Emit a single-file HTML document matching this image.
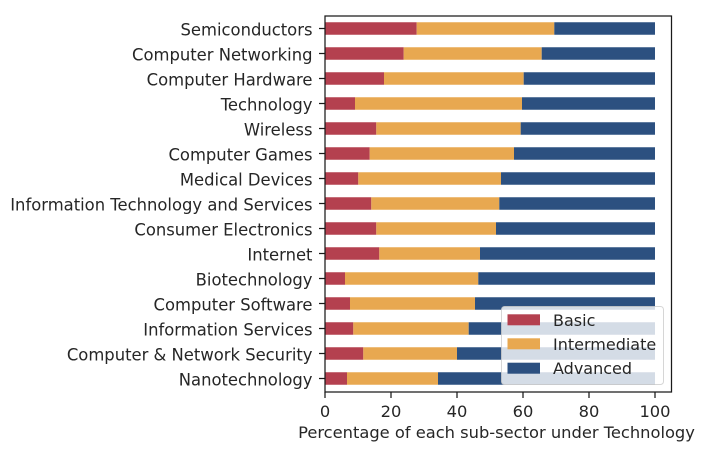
<!DOCTYPE html>
<html>
<head>
<meta charset="utf-8">
<style>
html,body{margin:0;padding:0;background:#fff;}
svg{display:block;}
text{font-family:"DejaVu Sans","Liberation Sans",sans-serif;fill:#262626;}
</style>
</head>
<body>
<svg width="706" height="452" viewBox="0 0 706 452" xmlns="http://www.w3.org/2000/svg">
<rect width="706" height="452" fill="#fff"/>
<g id="bars">
<rect x="325" y="22.25" width="91.7" height="12.5" fill="#b4404f"/>
<rect x="416.7" y="22.25" width="137.6" height="12.5" fill="#e8a850"/>
<rect x="554.3" y="22.25" width="100.7" height="12.5" fill="#2c5080"/>
<rect x="325" y="47.25" width="78.7" height="12.5" fill="#b4404f"/>
<rect x="403.7" y="47.25" width="138" height="12.5" fill="#e8a850"/>
<rect x="541.7" y="47.25" width="113.3" height="12.5" fill="#2c5080"/>
<rect x="325" y="72.25" width="59" height="12.5" fill="#b4404f"/>
<rect x="384" y="72.25" width="139.7" height="12.5" fill="#e8a850"/>
<rect x="523.7" y="72.25" width="131.3" height="12.5" fill="#2c5080"/>
<rect x="325" y="97.25" width="30" height="12.5" fill="#b4404f"/>
<rect x="355" y="97.25" width="167" height="12.5" fill="#e8a850"/>
<rect x="522" y="97.25" width="133" height="12.5" fill="#2c5080"/>
<rect x="325" y="122.25" width="51.3" height="12.5" fill="#b4404f"/>
<rect x="376.3" y="122.25" width="144.4" height="12.5" fill="#e8a850"/>
<rect x="520.7" y="122.25" width="134.3" height="12.5" fill="#2c5080"/>
<rect x="325" y="147.25" width="44.7" height="12.5" fill="#b4404f"/>
<rect x="369.7" y="147.25" width="144.3" height="12.5" fill="#e8a850"/>
<rect x="514" y="147.25" width="141" height="12.5" fill="#2c5080"/>
<rect x="325" y="172.25" width="33.3" height="12.5" fill="#b4404f"/>
<rect x="358.3" y="172.25" width="142.7" height="12.5" fill="#e8a850"/>
<rect x="501" y="172.25" width="154" height="12.5" fill="#2c5080"/>
<rect x="325" y="197.25" width="46.3" height="12.5" fill="#b4404f"/>
<rect x="371.3" y="197.25" width="128" height="12.5" fill="#e8a850"/>
<rect x="499.3" y="197.25" width="155.7" height="12.5" fill="#2c5080"/>
<rect x="325" y="222.25" width="51.3" height="12.5" fill="#b4404f"/>
<rect x="376.3" y="222.25" width="119.7" height="12.5" fill="#e8a850"/>
<rect x="496" y="222.25" width="159" height="12.5" fill="#2c5080"/>
<rect x="325" y="247.25" width="54.3" height="12.5" fill="#b4404f"/>
<rect x="379.3" y="247.25" width="100.7" height="12.5" fill="#e8a850"/>
<rect x="480" y="247.25" width="175" height="12.5" fill="#2c5080"/>
<rect x="325" y="272.25" width="20" height="12.5" fill="#b4404f"/>
<rect x="345" y="272.25" width="133.3" height="12.5" fill="#e8a850"/>
<rect x="478.3" y="272.25" width="176.7" height="12.5" fill="#2c5080"/>
<rect x="325" y="297.25" width="25" height="12.5" fill="#b4404f"/>
<rect x="350" y="297.25" width="125" height="12.5" fill="#e8a850"/>
<rect x="475" y="297.25" width="180" height="12.5" fill="#2c5080"/>
<rect x="325" y="322.25" width="28.3" height="12.5" fill="#b4404f"/>
<rect x="353.3" y="322.25" width="115.4" height="12.5" fill="#e8a850"/>
<rect x="468.7" y="322.25" width="186.3" height="12.5" fill="#2c5080"/>
<rect x="325" y="347.25" width="38.3" height="12.5" fill="#b4404f"/>
<rect x="363.3" y="347.25" width="93.7" height="12.5" fill="#e8a850"/>
<rect x="457" y="347.25" width="198" height="12.5" fill="#2c5080"/>
<rect x="325" y="372.25" width="22" height="12.5" fill="#b4404f"/>
<rect x="347" y="372.25" width="91" height="12.5" fill="#e8a850"/>
<rect x="438" y="372.25" width="217" height="12.5" fill="#2c5080"/>
</g>

<rect x="325" y="16" width="346.5" height="376" fill="none" stroke="#1a1a1a" stroke-width="1.25"/>

<g stroke="#1a1a1a" stroke-width="1.25">
<line x1="319" y1="28.5" x2="325" y2="28.5"/>
<line x1="319" y1="53.5" x2="325" y2="53.5"/>
<line x1="319" y1="78.5" x2="325" y2="78.5"/>
<line x1="319" y1="103.5" x2="325" y2="103.5"/>
<line x1="319" y1="128.5" x2="325" y2="128.5"/>
<line x1="319" y1="153.5" x2="325" y2="153.5"/>
<line x1="319" y1="178.5" x2="325" y2="178.5"/>
<line x1="319" y1="203.5" x2="325" y2="203.5"/>
<line x1="319" y1="228.5" x2="325" y2="228.5"/>
<line x1="319" y1="253.5" x2="325" y2="253.5"/>
<line x1="319" y1="278.5" x2="325" y2="278.5"/>
<line x1="319" y1="303.5" x2="325" y2="303.5"/>
<line x1="319" y1="328.5" x2="325" y2="328.5"/>
<line x1="319" y1="353.5" x2="325" y2="353.5"/>
<line x1="319" y1="378.5" x2="325" y2="378.5"/>
<line x1="325" y1="392" x2="325" y2="398"/>
<line x1="391" y1="392" x2="391" y2="398"/>
<line x1="457" y1="392" x2="457" y2="398"/>
<line x1="523" y1="392" x2="523" y2="398"/>
<line x1="589" y1="392" x2="589" y2="398"/>
<line x1="655" y1="392" x2="655" y2="398"/>
</g>

<g font-size="16.4" text-anchor="end">
<text x="312.5" y="35.4">Semiconductors</text>
<text x="312.5" y="60.4">Computer Networking</text>
<text x="312.5" y="85.4">Computer Hardware</text>
<text x="312.5" y="110.4">Technology</text>
<text x="312.5" y="135.4">Wireless</text>
<text x="312.5" y="160.4">Computer Games</text>
<text x="312.5" y="185.4">Medical Devices</text>
<text x="312.5" y="210.4">Information Technology and Services</text>
<text x="312.5" y="235.4">Consumer Electronics</text>
<text x="312.5" y="260.4">Internet</text>
<text x="312.5" y="285.4">Biotechnology</text>
<text x="312.5" y="310.4">Computer Software</text>
<text x="312.5" y="335.4">Information Services</text>
<text x="312.5" y="360.4">Computer &amp; Network Security</text>
<text x="312.5" y="385.4">Nanotechnology</text>
</g>

<g font-size="16.3" text-anchor="middle">
<text x="325" y="416.8">0</text>
<text x="391" y="416.8">20</text>
<text x="457" y="416.8">40</text>
<text x="523" y="416.8">60</text>
<text x="589" y="416.8">80</text>
<text x="655" y="416.8">100</text>
</g>

<text x="496.5" y="437.8" font-size="16.3" text-anchor="middle">Percentage of each sub-sector under Technology</text>

<rect x="501.5" y="306.5" width="162" height="78" rx="3" ry="3" fill="#fff" fill-opacity="0.8" stroke="#cccccc" stroke-opacity="0.8" stroke-width="1"/>
<rect x="507.5" y="314.3" width="32.5" height="11" fill="#b4404f"/>
<rect x="507.5" y="338.3" width="32.5" height="11" fill="#e8a850"/>
<rect x="507.5" y="362.7" width="32.5" height="11" fill="#2c5080"/>
<g font-size="16">
<text x="553" y="325.8">Basic</text>
<text x="553" y="350">Intermediate</text>
<text x="553" y="374.2">Advanced</text>
</g>
</svg>
</body>
</html>
